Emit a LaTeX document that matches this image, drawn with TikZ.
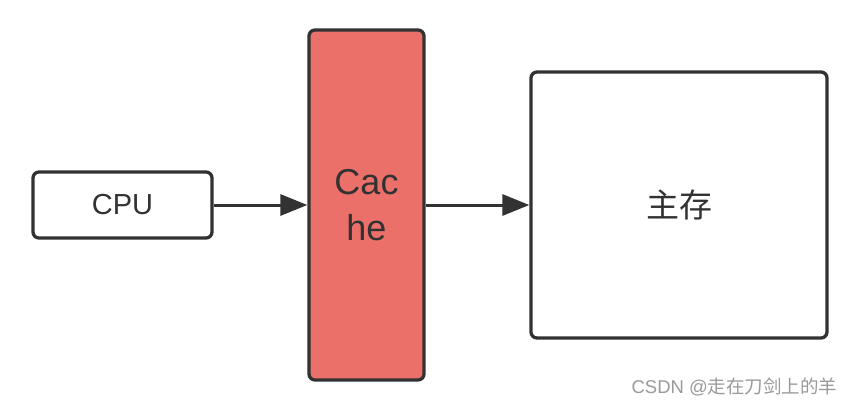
\documentclass[tikz,border=0pt]{standalone}
\usepackage{fontspec}
\setmainfont{Liberation Sans}
\newfontfamily\cjk{Noto Sans CJK SC}
\usetikzlibrary{arrows.meta}
\definecolor{edge}{HTML}{323232}
\definecolor{cachered}{HTML}{EC706A}
\definecolor{wm}{HTML}{9A9A9A}
\begin{document}
\begin{tikzpicture}[x=1pt,y=-1pt,
  box/.style={draw=edge,line width=3.3pt,rounded corners=6pt,inner sep=0pt,text=edge},
  conn/.style={draw=edge,line width=3pt,-{Triangle[length=27pt,width=21pt]}}]
\useasboundingbox (0,0) rectangle (856,408);
\fill[white] (0,0) rectangle (856,408);
\node[box,minimum width=179pt,minimum height=66pt,font=\fontsize{29}{32}\selectfont] (cpu) at (122.5,205) {CPU};
\node[box,fill=cachered,minimum width=115pt,minimum height=350pt,align=center,font=\fontsize{36}{46}\selectfont] (cache) at (366.5,205) {Cac\\he};
\node[box,minimum width=296pt,minimum height=266pt,font=\cjk\fontsize{33}{38}\selectfont] (mem) at (679,205) {主存};
\draw[conn] (cpu) -- (cache);
\draw[conn] (cache) -- (mem);
\node[text=wm,font=\fontsize{18.5}{22}\selectfont,anchor=east] (wmk) at (841,387) {CSDN @{\cjk 走在刀剑上的羊}};
\end{tikzpicture}
\end{document}
